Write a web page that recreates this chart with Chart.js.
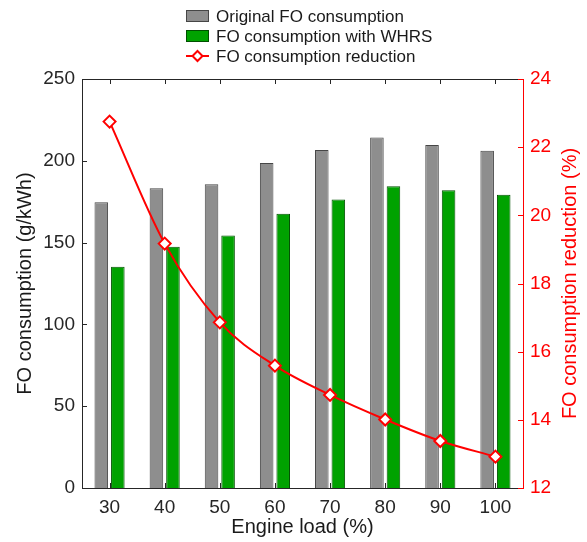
<!DOCTYPE html>
<html>
<head>
<meta charset="utf-8">
<script src="https://cdn.jsdelivr.net/npm/chart.js@4/dist/chart.umd.min.js"></script>
<style>
  html, body { margin: 0; padding: 0; background: #fff; }
  #wrap { width: 587px; height: 542px; }
</style>
</head>
<body>
<div id="wrap"><canvas id="chart" width="587" height="542"></canvas></div>
<script>
// Engine load categories (%)
const engineLoads = ['30', '40', '50', '60', '70', '80', '90', '100'];
// Fuel oil consumption, g/kWh
const originalFO = [174.6, 183.2, 185.6, 198.7, 206.6, 214.3, 209.7, 206.2];
const whrsFO = [135.3, 147.5, 154.4, 167.7, 176.4, 184.4, 182.0, 179.3];
// Relative reduction in FO consumption, %
const reductionPct = [22.75, 19.17, 16.86, 15.59, 14.73, 14.01, 13.38, 12.92];

const legendNames = ['Original FO consumption', 'FO consumption with WHRS', 'FO consumption reduction'];

const FONT = 'Liberation Sans, Arial, Helvetica, sans-serif';
const AXIS_DARK = '#262626';
const RED = '#ff0000';
const GRAY_FILL = 'rgb(142,142,142)';
const GRAY_EDGE = 'rgb(70,70,70)';
const GREEN_FILL = 'rgb(0,162,0)';
const GREEN_EDGE = 'rgb(0,80,0)';

// Inward tick marks, top frame line, right-hand title and legend
const framePlugin = {
  id: 'frame',
  afterDraw(chart) {
    const { ctx, chartArea: a, scales } = chart;
    const tl = 5;
    ctx.save();
    ctx.lineWidth = 1;
    // top frame
    ctx.strokeStyle = AXIS_DARK;
    ctx.beginPath();
    ctx.moveTo(a.left, a.top + 0.5);
    ctx.lineTo(a.right, a.top + 0.5);
    ctx.stroke();
    // left axis ticks
    ctx.beginPath();
    scales.y.ticks.forEach((t, i) => {
      const py = Math.round(scales.y.getPixelForTick(i)) + 0.5;
      ctx.moveTo(a.left, py);
      ctx.lineTo(a.left + tl, py);
    });
    // category ticks on bottom and top
    scales.x.ticks.forEach((t, i) => {
      const px = Math.round(scales.x.getPixelForTick(i)) + 0.5;
      ctx.moveTo(px, a.bottom);
      ctx.lineTo(px, a.bottom - tl);
      ctx.moveTo(px, a.top);
      ctx.lineTo(px, a.top + tl);
    });
    ctx.stroke();
    // right axis ticks
    ctx.strokeStyle = RED;
    ctx.beginPath();
    scales.y1.ticks.forEach((t, i) => {
      const py = Math.round(scales.y1.getPixelForTick(i)) + 0.5;
      ctx.moveTo(a.right, py);
      ctx.lineTo(a.right - tl, py);
    });
    ctx.stroke();

    // right axis title, reading bottom to top
    ctx.fillStyle = RED;
    ctx.font = '20px ' + FONT;
    ctx.textAlign = 'center';
    ctx.textBaseline = 'middle';
    ctx.translate(570, (a.top + a.bottom) / 2);
    ctx.rotate(-Math.PI / 2);
    ctx.fillText('FO consumption reduction (%)', 0, 0);
    ctx.restore();

    // legend
    ctx.save();
    ctx.font = '17px ' + FONT;
    ctx.textAlign = 'left';
    ctx.textBaseline = 'middle';
    const bx = 186, bw = 23, tx = 216;
    const rows = [16, 36, 56];
    // gray box
    ctx.fillStyle = GRAY_FILL;
    ctx.fillRect(bx, rows[0] - 6, bw, 12);
    ctx.strokeStyle = GRAY_EDGE;
    ctx.strokeRect(bx + 0.5, rows[0] - 5.5, bw - 1, 11);
    // green box
    ctx.fillStyle = GREEN_FILL;
    ctx.fillRect(bx, rows[1] - 6, bw, 12);
    ctx.strokeStyle = GREEN_EDGE;
    ctx.strokeRect(bx + 0.5, rows[1] - 5.5, bw - 1, 11);
    // line + diamond
    ctx.strokeStyle = RED;
    ctx.lineWidth = 2;
    ctx.beginPath();
    ctx.moveTo(bx, rows[2]);
    ctx.lineTo(bx + bw, rows[2]);
    ctx.stroke();
    const cx = bx + bw / 2, r = 5;
    ctx.beginPath();
    ctx.moveTo(cx, rows[2] - r);
    ctx.lineTo(cx + r, rows[2]);
    ctx.lineTo(cx, rows[2] + r);
    ctx.lineTo(cx - r, rows[2]);
    ctx.closePath();
    ctx.fillStyle = '#fff';
    ctx.fill();
    ctx.stroke();
    ctx.fillStyle = '#1a1a1a';
    legendNames.forEach((name, i) => ctx.fillText(name, tx, rows[i] + 1));
    ctx.restore();
  }
};

new Chart(document.getElementById('chart'), {
  type: 'bar',
  data: {
    labels: engineLoads,
    datasets: [
      {
        label: legendNames[0],
        data: originalFO,
        yAxisID: 'y',
        backgroundColor: GRAY_FILL,
        borderColor: GRAY_EDGE,
        borderWidth: 1,
        categoryPercentage: 0.6,
        barPercentage: 0.82,
        order: 1
      },
      {
        label: legendNames[1],
        data: whrsFO,
        yAxisID: 'y',
        backgroundColor: GREEN_FILL,
        borderColor: GREEN_EDGE,
        borderWidth: 1,
        categoryPercentage: 0.6,
        barPercentage: 0.82,
        order: 1
      },
      {
        type: 'line',
        label: legendNames[2],
        data: reductionPct,
        yAxisID: 'y1',
        borderColor: RED,
        borderWidth: 2,
        cubicInterpolationMode: 'monotone',
        pointStyle: 'rectRot',
        pointRadius: 6,
        pointBorderWidth: 2,
        pointBackgroundColor: '#fff',
        pointBorderColor: RED,
        order: 0
      }
    ]
  },
  options: {
    responsive: false,
    animation: false,
    layout: { padding: { top: 79, left: 0, right: 0, bottom: 0 } },
    plugins: {
      legend: { display: false },
      tooltip: { enabled: false }
    },
    scales: {
      x: {
        offset: true,
        grid: { display: false, drawTicks: false },
        border: { display: true, color: AXIS_DARK, width: 1 },
        ticks: { color: '#262626', padding: 8, font: { family: FONT, size: 19 } },
        title: {
          display: true, text: 'Engine load (%)', color: '#1a1a1a',
          font: { family: FONT, size: 20 }, padding: { top: 0, bottom: 3 }
        },
        afterFit(s) { s.height = 54; }
      },
      y: {
        position: 'left',
        min: 0, max: 250,
        grid: { display: false, drawTicks: false },
        border: { display: true, color: AXIS_DARK, width: 1 },
        ticks: { stepSize: 50, color: '#262626', padding: 7, font: { family: FONT, size: 19 } },
        title: {
          display: true, text: 'FO consumption (g/kWh)', color: '#1a1a1a',
          font: { family: FONT, size: 20 }, padding: { top: 13, bottom: 0 }
        },
        afterFit(s) { s.width = 82; }
      },
      y1: {
        position: 'right',
        min: 12, max: 24,
        grid: { display: false, drawTicks: false },
        border: { display: true, color: RED, width: 1 },
        ticks: { stepSize: 2, color: RED, padding: 7, font: { family: FONT, size: 19 } },
        afterFit(s) { s.width = 64; }
      }
    }
  },
  plugins: [framePlugin]
});
</script>
</body>
</html>
